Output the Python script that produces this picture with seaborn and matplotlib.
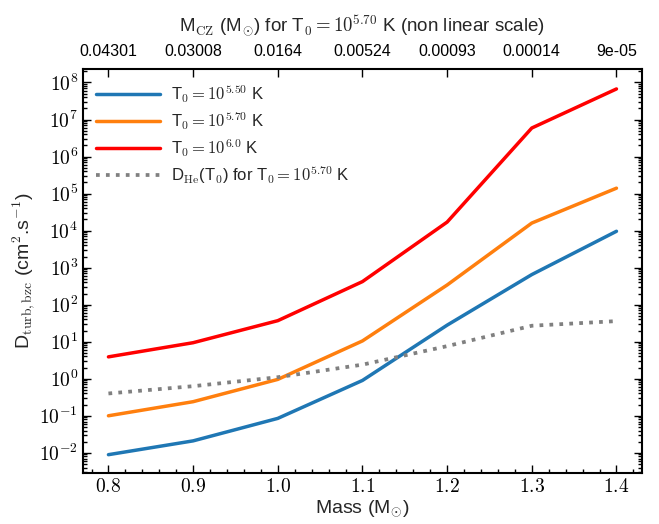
import math

import matplotlib

matplotlib.use("Agg")
import matplotlib.pyplot as plt
import pandas as pd
import seaborn as sns
from matplotlib.ticker import FuncFormatter, LogLocator, MultipleLocator

# Stellar mass grid (Msun)
mass = [0.8, 0.9, 1.0, 1.1, 1.2, 1.3, 1.4]

# Turbulent diffusion coefficient at the base of the convective zone (cm^2/s)
d_t550 = [0.0089, 0.021, 0.085, 0.9, 28, 650, 9600]
d_t570 = [0.10, 0.24, 0.96, 10.5, 340, 1.6e4, 1.4e5]
d_t600 = [3.9, 9.4, 37, 420, 1.7e4, 5.9e6, 6.7e7]
d_he = [0.40, 0.63, 1.1, 2.4, 7.6, 27, 36]

# Convective zone mass for T0 = 10^5.70 K (top axis labels)
mcz_labels = ["0.04301", "0.03008", "0.0164", "0.00524", "0.00093", "0.00014", "9e-05"]

df = pd.DataFrame(
    {
        "mass": mass,
        "t550": d_t550,
        "t570": d_t570,
        "t600": d_t600,
        "he": d_he,
    }
)

sns.set_theme(style="ticks")
plt.rcParams["font.family"] = ["Liberation Sans", "DejaVu Sans"]
plt.rcParams["mathtext.fontset"] = "cm"
plt.rcParams["xtick.color"] = "black"
plt.rcParams["ytick.color"] = "black"
plt.rcParams["axes.edgecolor"] = "black"

fig = plt.figure(figsize=(6.59, 5.24), dpi=100)
ax = fig.add_axes([0.126, 0.097, 0.848, 0.771])

sns.lineplot(data=df, x="mass", y="t550", ax=ax, color="#1f77b4", linewidth=2.5,
             label=r"T$_0=10^{5.50}$ K")
sns.lineplot(data=df, x="mass", y="t570", ax=ax, color="#ff7f0e", linewidth=2.5,
             label=r"T$_0=10^{5.70}$ K")
sns.lineplot(data=df, x="mass", y="t600", ax=ax, color="red", linewidth=2.5,
             label=r"T$_0=10^{6.0}$ K")
sns.lineplot(data=df, x="mass", y="he", ax=ax, color="grey", linewidth=2.7, linestyle=":",
             label=r"D$_{\rm He}$(T$_0$) for T$_0=10^{5.70}$ K")

ax.set_yscale("log")
ax.set_xlim(0.77, 1.43)
ax.set_ylim(10 ** -2.55, 10 ** 8.36)

# Bottom axis ticks
ax.set_xticks(mass)
ax.set_xticklabels([f"${m:.1f}$" for m in mass])
ax.xaxis.set_minor_locator(MultipleLocator(0.02))
ax.yaxis.set_major_locator(LogLocator(base=10, numticks=20))
ax.yaxis.set_minor_locator(LogLocator(base=10, subs=range(2, 10), numticks=20))
ax.yaxis.set_major_formatter(FuncFormatter(lambda v, p: f"$10^{{{int(round(math.log10(v)))}}}$"))
ax.tick_params(which="both", direction="in", top=False, right=True, labelsize=14)
ax.tick_params(which="major", length=6, width=1)
ax.tick_params(which="minor", length=3, width=1)
for s in ax.spines.values():
    s.set_linewidth(1.5)

ax.set_xlabel(r"Mass (M$_{\odot}$)", fontsize=14, labelpad=2)
ax.set_ylabel(r"D$_{\rm turb,bzc}$ (cm$^2$.s$^{-1}$)", fontsize=14, labelpad=2)

ax.legend(loc="upper left", frameon=False, fontsize=12, handlelength=3.8,
          handletextpad=0.7, labelspacing=0.3, borderaxespad=0.4)

# Top axis with the convective zone mass
ax2 = ax.twiny()
ax2.set_xlim(ax.get_xlim())
ax2.set_xticks(mass)
ax2.set_xticklabels(mcz_labels)
ax2.tick_params(direction="in", length=6, width=1, labelsize=11.5, pad=7)
ax2.set_xlabel(r"M$_{\rm CZ}$ (M$_{\odot}$) for T$_0=10^{5.70}$ K (non linear scale)",
               fontsize=13.5, labelpad=9)

fig.savefig("out.png", dpi=100)
plt.close(fig)
